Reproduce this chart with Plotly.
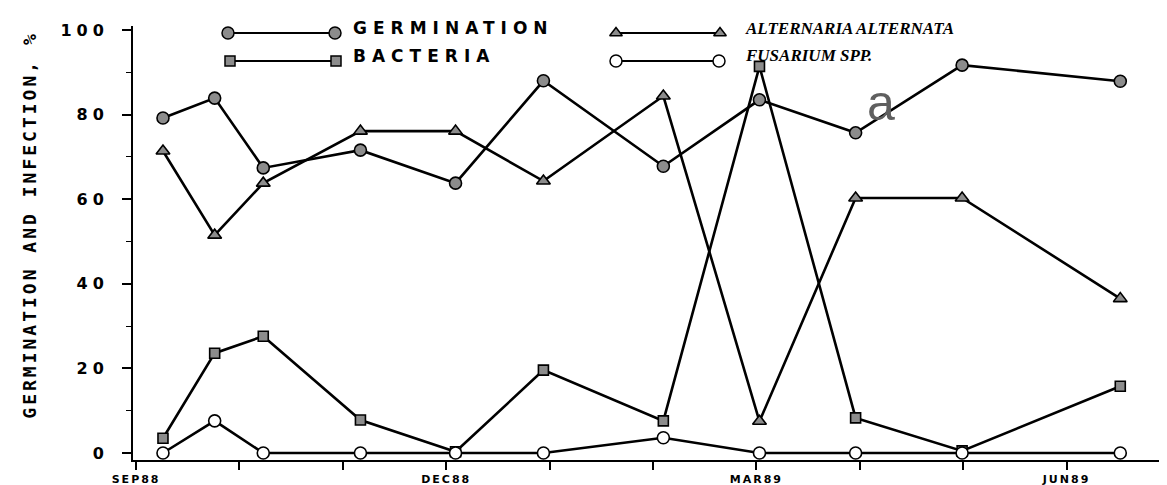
import plotly.graph_objects as go

# ---------------- data (x in months since 1 Sep 1988) ----------------
months = [0.26, 0.76, 1.23, 2.17, 3.09, 3.94, 5.10, 6.03, 6.96, 7.99, 9.52]
germination = [79.2, 83.9, 67.4, 71.6, 63.8, 88.0, 67.8, 83.5, 75.7, 91.7, 87.9]
alternaria = [71.4, 51.5, 63.8, 76.1, 76.1, 64.3, 84.4, 7.5, 60.3, 60.3, 36.5]
bacteria = [3.5, 23.6, 27.6, 7.8, 0.3, 19.6, 7.6, 91.4, 8.3, 0.5, 15.8]
fusarium = [0.0, 7.6, 0.0, 0.0, 0.0, 0.0, 3.6, 0.0, 0.0, 0.0, 0.0]

x_tick_vals = list(range(0, 11))
x_tick_text = ["SEP88", "", "", "DEC88", "", "", "MAR89", "", "", "JUN89", ""]
y_tick_vals = [0, 20, 40, 60, 80, 100]

GRAY = "#8c8c8c"
LW = 2.6


def spaced(t, sp):
    return f'<span style="letter-spacing:{sp}px">{t}</span>'


fig = go.Figure()

series = [
    ("GERMINATION", germination, "circle", GRAY, 12),
    ("ALTERNARIA ALTERNATA", alternaria, "triangle-up", GRAY, 12),
    ("BACTERIA", bacteria, "square", GRAY, 10),
    ("FUSARIUM SPP.", fusarium, "circle", "white", 12),
]
for name, vals, sym, fill, sz in series:
    fig.add_trace(go.Scatter(
        x=months, y=vals, mode="lines+markers", name=name,
        line=dict(color="black", width=LW),
        marker=dict(symbol=sym, size=sz, color=fill,
                    line=dict(color="black", width=1.6)),
        cliponaxis=False, showlegend=False,
    ))

# ---------- hand-drawn style legend on an overlay pixel axis ----------
legend_rows = [
    # (symbol, fill, size, y, x_left, x_right)
    ("circle", GRAY, 12, 25, 220, 327),
    ("square", GRAY, 10, 53, 222, 328),
    ("triangle-up", GRAY, 11, 25, 608, 712),
    ("circle", "white", 12, 53, 608, 711),
]
for sym, fill, sz, yy, xl, xr in legend_rows:
    fig.add_trace(go.Scatter(
        x=[xl, xr], y=[yy, yy], mode="lines+markers", xaxis="x2", yaxis="y2",
        line=dict(color="black", width=1.8),
        marker=dict(symbol=sym, size=sz, color=fill,
                    line=dict(color="black", width=1.5)),
        cliponaxis=False, showlegend=False, hoverinfo="skip",
    ))

legend_texts = [
    ("GERMINATION", 343, 20, "DejaVu Sans", 17, 6, "normal"),
    ("BACTERIA", 343, 48, "DejaVu Sans", 17, 6, "normal"),
    ("ALTERNARIA ALTERNATA", 735, 20, "Liberation Serif", 17, 0, "italic"),
    ("FUSARIUM SPP.", 735, 47, "Liberation Serif", 17, 0, "italic"),
]
for txt, xx, yy, fam, fs, sp, style in legend_texts:
    fig.add_annotation(x=xx, y=yy, xref="x2", yref="y2", text=spaced(txt, sp),
                       showarrow=False, xanchor="left", yanchor="middle",
                       font=dict(family=fam, size=fs, color="black",
                                 weight="bold", style=style))

# panel letter
fig.add_annotation(x=873, y=95, xref="x2", yref="y2", text="a",
                   showarrow=False, xanchor="center", yanchor="middle",
                   font=dict(family="Liberation Sans Narrow, Liberation Sans", size=50,
                             color="#5f5f5f"))

# y-axis title
fig.add_annotation(x=-0.099, y=0.54, xref="paper", yref="paper",
                   text=spaced("GERMINATION AND INFECTION, %", 3),
                   textangle=-90, showarrow=False, xanchor="center", yanchor="middle",
                   font=dict(family="DejaVu Sans Mono", size=18, color="black",
                             weight="bold"))

fig.update_layout(
    template="none",
    width=1167, height=485,
    margin=dict(l=125, r=2, t=18, b=33, autoexpand=False),
    paper_bgcolor="white", plot_bgcolor="white",
    xaxis=dict(
        automargin=False,
        range=[-0.03, 10.03], showgrid=False, zeroline=False,
        showline=True, linecolor="black", linewidth=2,
        tickmode="array", tickvals=x_tick_vals,
        ticktext=[spaced(t, 2) if t else "" for t in x_tick_text],
        ticks="outside", ticklen=8, tickwidth=1.5, tickcolor="black",
        tickfont=dict(family="DejaVu Sans", size=11, color="black", weight="bold"),
    ),
    yaxis=dict(
        automargin=False,
        range=[-1.65, 100.95], showgrid=False, zeroline=False,
        showline=True, linecolor="black", linewidth=2,
        tickmode="array", tickvals=y_tick_vals,
        ticktext=[spaced(str(v), 5) for v in y_tick_vals],
        ticks="outside", ticklen=9, tickwidth=1.5, tickcolor="black",
        tickfont=dict(family="DejaVu Sans", size=16, color="black", weight="bold"),
        ticklabelstandoff=10,
        minor=dict(tickmode="linear", tick0=10, dtick=20, ticks="outside",
                   ticklen=5, tickwidth=1.2, tickcolor="black"),
    ),
    xaxis2=dict(range=[125, 1165], overlaying="x", visible=False, fixedrange=True,
                automargin=False),
    yaxis2=dict(range=[452, 18], overlaying="y", visible=False, fixedrange=True,
                automargin=False),
)

fig.write_html("out.html")
